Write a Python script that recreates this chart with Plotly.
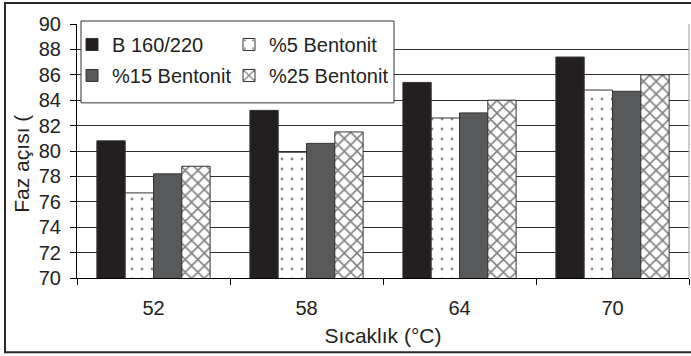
import plotly.graph_objects as go

# Phase angle by test temperature for the base binder and bentonite blends
temperatures = ["52", "58", "64", "70"]
b160_220 = [80.8, 83.2, 85.4, 87.4]
bentonit_5 = [76.7, 79.9, 82.6, 84.8]
bentonit_15 = [78.2, 80.6, 83.0, 84.7]
bentonit_25 = [78.8, 81.5, 84.0, 86.0]

FONT = "Liberation Sans, Arial, sans-serif"
TEXT = "#222222"
EDGE = "#333333"

W, H = 691, 356
ML, MR, MT, MB = 77, 2, 24, 77.5
PW, PH = W - ML - MR, H - MT - MB


def px_x(px):
    return (px - ML) / PW


def px_y(py):
    return (H - MB - py) / PH


series = [
    dict(name="B 160/220", y=b160_220, color="#231f20", pattern=None, legend="legend"),
    dict(name="%5 Bentonit", y=bentonit_5, color="white",
         pattern=dict(shape=".", fgcolor="#111111", bgcolor="white", size=10, solidity=0.06),
         legend="legend2"),
    dict(name="%15 Bentonit", y=bentonit_15, color="#58595b", pattern=None, legend="legend"),
    dict(name="%25 Bentonit", y=bentonit_25, color="white",
         pattern=dict(shape="x", fgcolor="#000000", bgcolor="white", size=9, solidity=0.32),
         legend="legend2"),
]

fig = go.Figure()
for s in series:
    marker = dict(color=s["color"], line=dict(color=EDGE, width=1))
    if s["pattern"]:
        marker["pattern"] = s["pattern"]
    fig.add_trace(go.Bar(
        x=temperatures, y=s["y"], name=s["name"], marker=marker,
        legend=s["legend"], legendgroup=s["name"],
    ))

legend_common = dict(
    bgcolor="rgba(0,0,0,0)", borderwidth=0, orientation="v",
    font=dict(family=FONT, size=20, color=TEXT),
    xanchor="left", yanchor="top", tracegroupgap=2,
)

fig.update_layout(
    width=W, height=H,
    margin=dict(l=ML, r=MR, t=MT, b=MB, autoexpand=False),
    paper_bgcolor="white", plot_bgcolor="white",
    barmode="group", bargap=0.26, bargroupgap=0,
    font=dict(family=FONT, color=TEXT),
    legend=dict(x=px_x(72), y=px_y(25), **legend_common),
    legend2=dict(x=px_x(229), y=px_y(25), **legend_common),
    xaxis=dict(
        type="category",
        showline=True, linecolor="black", linewidth=1,
        ticks="outside", tickson="boundaries", ticklen=6, tickcolor="black",
        tickfont=dict(family=FONT, size=20, color=TEXT),
        ticklabelstandoff=12,
        showgrid=False,
        title=dict(text="Sıcaklık (°C)", font=dict(family=FONT, size=21, color=TEXT), standoff=10),
    ),
    yaxis=dict(
        range=[70, 90], dtick=2,
        showline=True, linecolor="black", linewidth=1,
        ticks="outside", ticklen=6, tickcolor="black",
        tickfont=dict(family=FONT, size=20, color=TEXT),
        ticklabelstandoff=5,
        showgrid=True, gridcolor="#2e2e2e", gridwidth=1,
        zeroline=False,
    ),
    shapes=[
        # right edge of the plotting area
        dict(type="line", xref="paper", yref="paper", x0=1, x1=1, y0=0, y1=1,
             line=dict(color="#9a9a9a", width=1)),
        # legend box
        dict(type="rect", xref="paper", yref="paper", layer="above",
             x0=px_x(81), x1=px_x(394), y0=px_y(103), y1=px_y(21),
             fillcolor="white", line=dict(color=EDGE, width=1)),
        # outer chart frame
        dict(type="rect", xref="paper", yref="paper", layer="above",
             x0=px_x(5), x1=px_x(W + 5), y0=px_y(353), y1=px_y(3),
             fillcolor="rgba(0,0,0,0)", line=dict(color="#2a2a2a", width=2)),
    ],
    annotations=[
        dict(text="Faz açısı (", textangle=-90, showarrow=False,
             xref="paper", yref="paper", x=px_x(22), y=px_y(164),
             xanchor="center", yanchor="middle",
             font=dict(family=FONT, size=21, color=TEXT)),
    ],
)

fig.write_html("out.html")
